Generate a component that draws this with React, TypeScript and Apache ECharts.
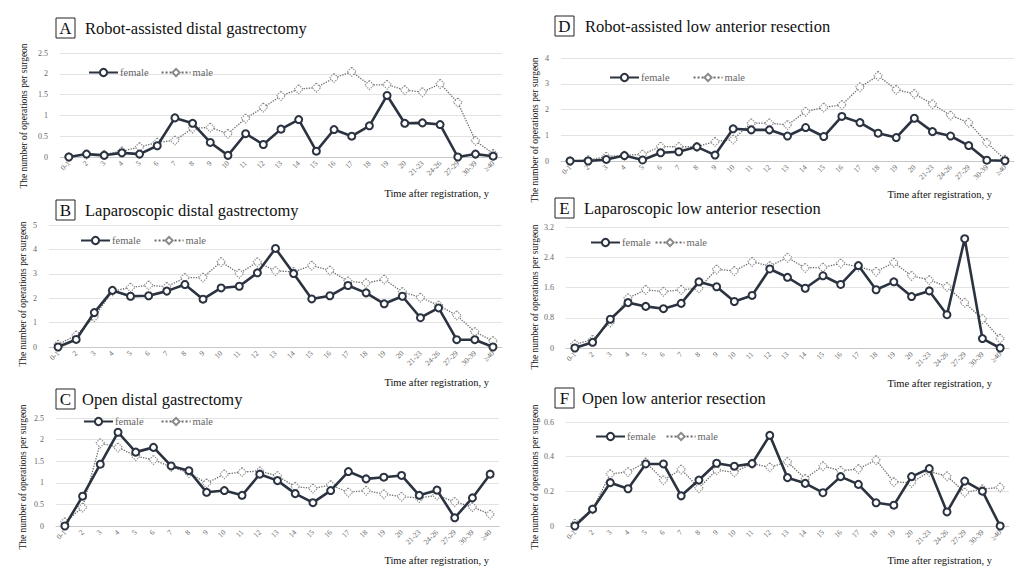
import React, { useEffect, useRef } from "react";
import * as echarts from "echarts";

const categories = [
  "0-1", "2", "3", "4", "5", "6", "7", "8", "9", "10", "11", "12", "13", "14", "15",
  "16", "17", "18", "19", "20", "21-23", "24-26", "27-29", "30-39", "≥40",
];

const aFemale = [0, 0.07, 0.04, 0.1, 0.07, 0.27, 0.94, 0.81, 0.35, 0.04, 0.56, 0.3, 0.67, 0.9, 0.14, 0.66, 0.5, 0.75, 1.48, 0.81, 0.82, 0.78, 0, 0.07, 0.02];
const aMale = [0, 0.06, 0.06, 0.14, 0.24, 0.35, 0.4, 0.69, 0.71, 0.56, 0.93, 1.19, 1.47, 1.63, 1.67, 1.9, 2.05, 1.73, 1.74, 1.61, 1.56, 1.76, 1.31, 0.39, 0.08];

const bFemale = [0, 0.31, 1.41, 2.32, 2.08, 2.1, 2.29, 2.56, 1.96, 2.42, 2.49, 3.04, 4.04, 3.01, 1.97, 2.1, 2.52, 2.22, 1.77, 2.08, 1.2, 1.6, 0.3, 0.3, 0];
const bMale = [0.1, 0.48, 1.23, 2.29, 2.44, 2.53, 2.47, 2.84, 2.85, 3.49, 3.01, 3.48, 3.12, 3.08, 3.34, 3.14, 2.7, 2.62, 2.77, 2.26, 2.03, 1.71, 1.3, 0.62, 0.25];

const cFemale = [0, 0.69, 1.43, 2.17, 1.71, 1.82, 1.39, 1.28, 0.78, 0.82, 0.71, 1.2, 1.05, 0.75, 0.54, 0.82, 1.26, 1.09, 1.13, 1.17, 0.71, 0.83, 0.19, 0.65, 1.2];
const cMale = [0.09, 0.43, 1.92, 1.82, 1.62, 1.53, 1.37, 1.23, 0.99, 1.2, 1.25, 1.27, 1.16, 0.91, 0.87, 0.95, 0.78, 0.82, 0.74, 0.68, 0.65, 0.71, 0.56, 0.44, 0.27];

const dFemale = [0, 0, 0.06, 0.21, 0.04, 0.32, 0.36, 0.55, 0.23, 1.25, 1.21, 1.21, 0.97, 1.3, 0.95, 1.73, 1.49, 1.08, 0.91, 1.66, 1.14, 0.97, 0.6, 0.03, 0.01];
const dMale = [0, 0.04, 0.17, 0.22, 0.26, 0.56, 0.55, 0.56, 0.75, 0.84, 1.47, 1.47, 1.4, 1.92, 2.08, 2.18, 2.87, 3.31, 2.77, 2.61, 2.21, 1.77, 1.49, 0.71, 0.06];

const eFemale = [0, 0.15, 0.76, 1.2, 1.1, 1.04, 1.18, 1.75, 1.62, 1.23, 1.39, 2.09, 1.87, 1.58, 1.91, 1.68, 2.18, 1.54, 1.75, 1.36, 1.51, 0.88, 2.89, 0.25, 0];
const eMale = [0.1, 0.22, 0.68, 1.32, 1.54, 1.49, 1.54, 1.58, 2.08, 2.04, 2.28, 2.17, 2.39, 2.12, 2.13, 2.24, 2.15, 2.02, 2.26, 1.91, 1.8, 1.62, 1.2, 0.77, 0.25];

const fFemale = [0, 0.097, 0.25, 0.215, 0.358, 0.358, 0.174, 0.265, 0.362, 0.345, 0.36, 0.523, 0.279, 0.246, 0.192, 0.285, 0.24, 0.134, 0.12, 0.285, 0.331, 0.081, 0.259, 0.201, 0];
const fMale = [0.014, 0.097, 0.3, 0.312, 0.368, 0.265, 0.327, 0.219, 0.323, 0.31, 0.36, 0.339, 0.37, 0.273, 0.346, 0.319, 0.329, 0.381, 0.254, 0.25, 0.314, 0.288, 0.194, 0.213, 0.223];

const panelLetters = ["A", "B", "C", "D", "E", "F"];
const panelTitles = [
  "Robot-assisted distal gastrectomy",
  "Laparoscopic distal gastrectomy",
  "Open distal gastrectomy",
  "Robot-assisted low anterior resection",
  "Laparoscopic low anterior resection",
  "Open low anterior resection",
];
const yMax = [2.5, 5, 2.5, 4, 3.2, 0.6];
const yInterval = [0.5, 1, 0.5, 1, 0.8, 0.2];
const femaleData = [aFemale, bFemale, cFemale, dFemale, eFemale, fFemale];
const maleData = [aMale, bMale, cMale, dMale, eMale, fMale];

const yAxisName = "The number of operations per surgeon";
const xAxisName = "Time after registration, y";

// layout (pixels)
const grids = [
  { l: 60, r: 502, t: 53, b: 157 },
  { l: 49, r: 502, t: 225, b: 347 },
  { l: 56, r: 499, t: 418, b: 526 },
  { l: 561, r: 1014, t: 58, b: 161 },
  { l: 566, r: 1009, t: 227, b: 348 },
  { l: 566, r: 1009, t: 422, b: 526 },
];
const titlePos = [
  { bx: 56, by: 18, tx: 85 },
  { bx: 56, by: 200, tx: 85 },
  { bx: 56, by: 389, tx: 82 },
  { bx: 555, by: 16, tx: 585 },
  { bx: 555, by: 198, tx: 584 },
  { bx: 555, by: 388, tx: 582 },
];
const legendPos = [
  { x: 88, y: 73, gap: 12 },
  { x: 80, y: 241, gap: 13 },
  { x: 83, y: 422, gap: 17 },
  { x: 609, y: 78, gap: 23 },
  { x: 590, y: 243, gap: 4 },
  { x: 595, y: 437, gap: 10 },
];
const yNamePos = [
  { x: 24, y: 116 },
  { x: 23, y: 294 },
  { x: 23, y: 477 },
  { x: 535, y: 130 },
  { x: 535, y: 297 },
  { x: 535, y: 477 },
];
const xNamePos = [
  { x: 489, y: 193 },
  { x: 489, y: 382 },
  { x: 489, y: 560 },
  { x: 992, y: 194 },
  { x: 992, y: 383 },
  { x: 992, y: 560 },
];

const SERIF = "Liberation Serif, Times New Roman, serif";
const FEMALE_COLOR = "#2b3240";
const MALE_COLOR = "#6a6a6a";
const TICK_COLOR = "#666666";

export default function App() {
  const ref = useRef<HTMLDivElement>(null);

  useEffect(() => {
    if (!ref.current) return;
    const chart = echarts.init(ref.current, undefined, { renderer: "svg" });

    const grid = grids.map((g) => ({
      left: g.l,
      top: g.t,
      width: g.r - g.l,
      height: g.b - g.t,
      containLabel: false,
    }));

    const xAxis = grids.map((_, i) => ({
      type: "category",
      gridIndex: i,
      data: categories,
      boundaryGap: true,
      axisLine: { show: true, lineStyle: { color: "#c8c8c8", width: 1 } },
      axisTick: { show: false },
      axisLabel: {
        rotate: 45,
        interval: 0,
        fontSize: 7.5,
        color: TICK_COLOR,
        fontFamily: SERIF,
        margin: 5,
      },
    }));

    const yAxis = grids.map((_, i) => ({
      type: "value",
      gridIndex: i,
      min: 0,
      max: yMax[i],
      interval: yInterval[i],
      axisLine: { show: false },
      axisTick: { show: false },
      axisLabel: { fontSize: 8, color: TICK_COLOR, fontFamily: SERIF, margin: 12 },
      splitLine: { show: true, lineStyle: { color: "#e3e3e3", width: 1 } },
    }));

    const series: any[] = [];
    for (let i = 0; i < 6; i++) {
      series.push({
        name: "female",
        type: "line",
        xAxisIndex: i,
        yAxisIndex: i,
        data: femaleData[i],
        symbol: "circle",
        symbolSize: 7,
        showAllSymbol: true,
        lineStyle: { color: FEMALE_COLOR, width: 2.6 },
        itemStyle: { color: "#ffffff", borderColor: FEMALE_COLOR, borderWidth: 2 },
        z: 3,
      });
      series.push({
        name: "male",
        type: "line",
        xAxisIndex: i,
        yAxisIndex: i,
        data: maleData[i],
        symbol: "diamond",
        symbolSize: 9,
        showAllSymbol: true,
        lineStyle: { color: MALE_COLOR, width: 1.3, type: "dotted" },
        itemStyle: { color: "#ffffff", borderColor: "#8a8a8a", borderWidth: 1.2, borderType: "dotted" },
        z: 2,
      });
    }

    const legend = legendPos.map((p) => ({
      left: p.x,
      top: p.y - 6,
      orient: "horizontal",
      itemWidth: 29,
      itemHeight: 9,
      itemGap: p.gap,
      padding: 0,
      selectedMode: false,
      data: ["female", "male"],
      textStyle: { fontFamily: SERIF, fontSize: 10.5, color: TICK_COLOR, padding: [0, 0, 0, -3] },
    }));

    const graphic: any[] = [];
    for (let i = 0; i < 6; i++) {
      const tp = titlePos[i];
      graphic.push({
        type: "rect",
        shape: { x: tp.bx, y: tp.by, width: 19, height: 20 },
        style: { fill: "#ffffff", stroke: "#222222", lineWidth: 1 },
      });
      graphic.push({
        type: "text",
        x: tp.bx + 9.5,
        y: tp.by + 10.5,
        style: {
          text: panelLetters[i],
          fontSize: 17,
          fontFamily: SERIF,
          fill: "#111111",
          align: "center",
          verticalAlign: "middle",
        },
      });
      graphic.push({
        type: "text",
        x: tp.tx,
        y: tp.by + 10.5,
        style: {
          text: panelTitles[i],
          fontSize: 16.5,
          fontFamily: SERIF,
          fill: "#111111",
          align: "left",
          verticalAlign: "middle",
        },
      });
      graphic.push({
        type: "text",
        x: yNamePos[i].x,
        y: yNamePos[i].y,
        rotation: Math.PI / 2,
        style: {
          text: yAxisName,
          fontSize: 9.5,
          fontFamily: SERIF,
          fill: "#111111",
          align: "center",
          verticalAlign: "middle",
        },
      });
      graphic.push({
        type: "text",
        x: xNamePos[i].x,
        y: xNamePos[i].y,
        style: {
          text: xAxisName,
          fontSize: 10.5,
          fontFamily: SERIF,
          fill: "#111111",
          align: "right",
          verticalAlign: "middle",
        },
      });
    }

    chart.setOption({
      animation: false,
      backgroundColor: "#ffffff",
      grid,
      xAxis,
      yAxis,
      series,
      legend,
      graphic,
    } as any);

    return () => chart.dispose();
  }, []);

  return (
    <div
      ref={ref}
      style={{ position: "absolute", left: 0, top: 0, width: 1024, height: 576 }}
    />
  );
}
